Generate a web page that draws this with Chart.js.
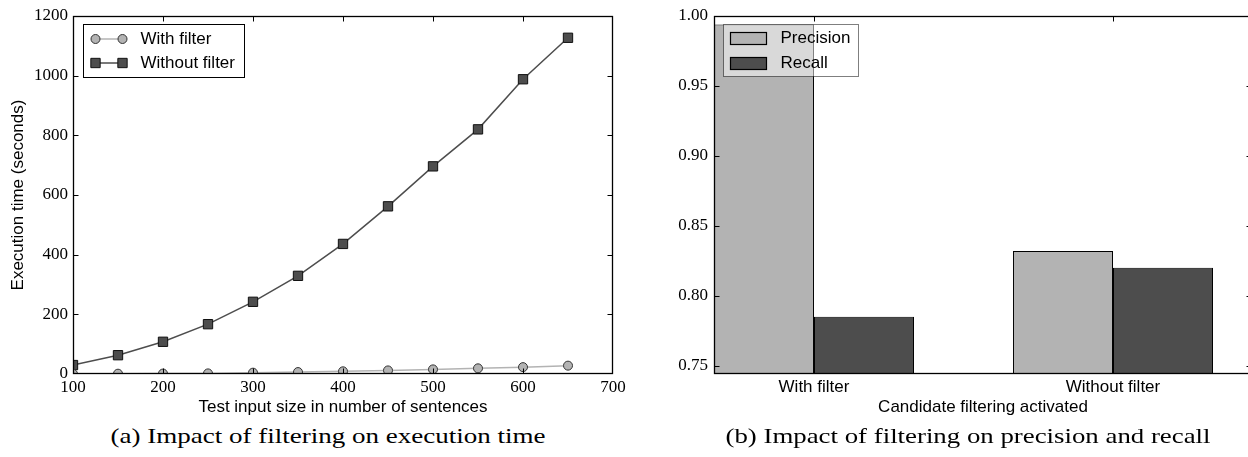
<!DOCTYPE html>
<html>
<head>
<meta charset="utf-8">
<script src="https://cdn.jsdelivr.net/npm/chart.js@4.4.1/dist/chart.umd.min.js"></script>
<style>
  html, body { margin: 0; padding: 0; background: #fff; overflow: hidden; }
  #wrap { position: relative; width: 1248px; height: 457px; overflow: hidden; background: #fff; }
  canvas { position: absolute; top: 0; }
  #timeChart { left: 0; }
  #scoreChart { left: 624px; }
  .cap {
    position: absolute; top: 425px; white-space: nowrap;
    font-family: "Liberation Serif", serif; font-size: 22px; line-height: 22px;
    color: #000; transform-origin: center center;
  }
</style>
</head>
<body>
<div id="wrap">
  <canvas id="timeChart" width="650" height="420"></canvas>
  <canvas id="scoreChart" width="628" height="420"></canvas>
  <div class="cap" id="capA">(a) Impact of filtering on execution time</div>
  <div class="cap" id="capB">(b) Impact of filtering on precision and recall</div>
</div>
<script>
// ---- (a) execution time vs. input size ----
const sentenceCounts = [100, 150, 200, 250, 300, 350, 400, 450, 500, 550, 600, 650];
const timeWithFilter = [0.5, 1, 1.5, 2, 4.5, 6.5, 9, 12, 15.5, 19, 23, 28];
const timeWithoutFilter = [30, 63, 108, 167, 242, 329, 436, 562, 696, 820, 988, 1127];
const sizeTicks = [100, 200, 300, 400, 500, 600, 700];
const timeTicks = [0, 200, 400, 600, 800, 1000, 1200];

// ---- (b) precision / recall per filtering mode ----
const filterModes = ['With filter', 'Without filter'];
const precision = [0.994, 0.832];
const recall = [0.785, 0.820];
const scoreTicks = [0.75, 0.80, 0.85, 0.90, 0.95, 1.00];

const LIGHT = '#b3b3b3';
const DARK = '#4d4d4d';
const SANS = '"Liberation Sans", Arial, sans-serif';
const SERIF = '"Liberation Serif", serif';

Chart.defaults.color = '#000';
Chart.defaults.font.family = SANS;

// Inward tick marks on all four sides plus a closed frame, matplotlib style
const frameTicks = {
  id: 'frameTicks',
  afterDatasetsDraw(chart) {
    const { ctx, chartArea: a, scales: { x, y } } = chart;
    const L = Math.round(a.left) + 0.5, R = Math.round(a.right) - 0.5;
    const T = Math.round(a.top) + 0.5, B = Math.round(a.bottom) - 0.5;
    const len = 5;
    ctx.save();
    ctx.strokeStyle = '#000';
    ctx.lineWidth = 1;
    ctx.beginPath();
    x.ticks.forEach(t => {
      const px = Math.round(x.getPixelForValue(t.value)) + 0.5;
      if (px < L + 1 || px > R - 1) return;
      ctx.moveTo(px, B); ctx.lineTo(px, B - len);
      ctx.moveTo(px, T); ctx.lineTo(px, T + len);
    });
    y.ticks.forEach(t => {
      const py = Math.round(y.getPixelForValue(t.value)) + 0.5;
      if (py < T + 1 || py > B - 1) return;
      ctx.moveTo(L, py); ctx.lineTo(L + len, py);
      ctx.moveTo(R, py); ctx.lineTo(R - len, py);
    });
    ctx.stroke();
    ctx.lineWidth = 1.3;
    ctx.strokeRect(L, T, R - L, B - T);
    ctx.restore();
  }
};

function drawMarker(ctx, style, x, y, r, fill, stroke) {
  ctx.save();
  ctx.fillStyle = fill; ctx.strokeStyle = stroke; ctx.lineWidth = 1;
  ctx.beginPath();
  if (style === 'rect') {
    const s = r * Math.SQRT1_2;
    ctx.rect(x - s, y - s, 2 * s, 2 * s);
  } else {
    ctx.arc(x, y, r, 0, Math.PI * 2);
  }
  ctx.fill(); ctx.stroke();
  ctx.restore();
}

// Legend for the line chart: a line with two markers per entry
const lineLegend = {
  id: 'lineLegend',
  afterDraw(chart) {
    const { ctx, chartArea: a } = chart;
    const bx = Math.round(a.left) + 10.5, by = Math.round(a.top) + 8.5, bw = 161, bh = 53;
    ctx.save();
    ctx.fillStyle = '#fff';
    ctx.fillRect(bx, by, bw, bh);
    ctx.strokeStyle = '#000'; ctx.lineWidth = 1;
    ctx.strokeRect(bx, by, bw, bh);
    chart.data.datasets.forEach((ds, i) => {
      const cy = by + 14.5 + i * 24;
      const x1 = bx + 12, x2 = bx + 39;
      ctx.strokeStyle = ds.borderColor; ctx.lineWidth = ds.borderWidth;
      ctx.beginPath(); ctx.moveTo(x1, cy); ctx.lineTo(x2, cy); ctx.stroke();
      drawMarker(ctx, ds.pointStyle, x1, cy, ds.pointRadius, ds.pointBackgroundColor, ds.pointBorderColor);
      drawMarker(ctx, ds.pointStyle, x2, cy, ds.pointRadius, ds.pointBackgroundColor, ds.pointBorderColor);
      ctx.fillStyle = '#000';
      ctx.font = '17px ' + SANS;
      ctx.textBaseline = 'middle'; ctx.textAlign = 'left';
      ctx.fillText(ds.label, bx + 57, cy);
    });
    ctx.restore();
  }
};

// Legend for the bar chart: half-transparent frame with colour patches
const barLegend = {
  id: 'barLegend',
  afterDraw(chart) {
    const { ctx, chartArea: a } = chart;
    const bx = Math.round(a.left) + 9.5, by = Math.round(a.top) + 8.5, bw = 135, bh = 52;
    ctx.save();
    ctx.fillStyle = 'rgba(255,255,255,0.5)';
    ctx.fillRect(bx, by, bw, bh);
    ctx.strokeStyle = 'rgba(0,0,0,0.5)'; ctx.lineWidth = 1;
    ctx.strokeRect(bx, by, bw, bh);
    chart.data.datasets.forEach((ds, i) => {
      const cy = by + 14 + i * 25;
      ctx.fillStyle = ds.backgroundColor;
      ctx.fillRect(bx + 7, cy - 6, 36, 12);
      ctx.strokeStyle = '#000'; ctx.lineWidth = 1.2;
      ctx.strokeRect(bx + 7, cy - 6, 36, 12);
      ctx.fillStyle = '#000';
      ctx.font = '17px ' + SANS;
      ctx.textBaseline = 'middle'; ctx.textAlign = 'left';
      ctx.fillText(ds.label, bx + 57, cy);
    });
    ctx.restore();
  }
};

function fixedTicks(values) {
  return scale => { scale.ticks = values.map(v => ({ value: v })); };
}
function fixWidth(w) {
  return scale => { scale.width = w; scale.paddingTop = 0; scale.paddingBottom = 0; };
}
function fixHeight(h) {
  return scale => { scale.height = h; scale.paddingLeft = 0; scale.paddingRight = 0; };
}

const tickFont = { family: SERIF, size: 17 };
const titleFont = { family: SANS, size: 17, lineHeight: 1.2 };

new Chart(document.getElementById('timeChart'), {
  type: 'line',
  data: {
    datasets: [
      {
        label: 'With filter',
        data: sentenceCounts.map((n, i) => ({ x: n, y: timeWithFilter[i] })),
        borderColor: LIGHT, borderWidth: 1.5,
        pointStyle: 'circle', pointRadius: 4.5,
        pointBackgroundColor: LIGHT, pointBorderColor: '#333', pointBorderWidth: 1
      },
      {
        label: 'Without filter',
        data: sentenceCounts.map((n, i) => ({ x: n, y: timeWithoutFilter[i] })),
        borderColor: DARK, borderWidth: 1.5,
        pointStyle: 'rect', pointRadius: 6.6,
        pointBackgroundColor: DARK, pointBorderColor: '#111', pointBorderWidth: 1
      }
    ]
  },
  options: {
    responsive: false, animation: false, events: [],
    devicePixelRatio: 1,
    layout: { padding: { left: 0, right: 37, top: 16, bottom: 0 } },
    elements: { line: { tension: 0 } },
    plugins: { legend: { display: false }, tooltip: { enabled: false } },
    scales: {
      x: {
        type: 'linear', min: 100, max: 700,
        afterBuildTicks: fixedTicks(sizeTicks),
        afterFit: fixHeight(46),
        grid: { display: false, drawTicks: false },
        border: { display: false },
        ticks: { font: tickFont, padding: 3, autoSkip: false, maxRotation: 0, callback: v => String(v) },
        title: { display: true, text: 'Test input size in number of sentences', font: titleFont, padding: { top: 0, bottom: 2 } }
      },
      y: {
        type: 'linear', min: 0, max: 1200,
        afterBuildTicks: fixedTicks(timeTicks),
        afterFit: fixWidth(73),
        grid: { display: false, drawTicks: false },
        border: { display: false },
        ticks: { font: tickFont, padding: 5, autoSkip: false, callback: v => String(v) },
        title: { display: true, text: 'Execution time (seconds)', font: titleFont, padding: { top: 8, bottom: 0 } }
      }
    }
  },
  plugins: [frameTicks, lineLegend]
});

// bar groups sit on integer positions; the axis is widened so the first
// group touches the left spine and the right spine falls just past the edge
const groupPos = filterModes.map((_, i) => i);

new Chart(document.getElementById('scoreChart'), {
  type: 'bar',
  data: {
    datasets: [
      {
        label: 'Precision',
        data: groupPos.map((p, i) => ({ x: p, y: precision[i] })),
        backgroundColor: LIGHT, borderColor: '#000', borderWidth: 1, borderSkipped: 'start'
      },
      {
        label: 'Recall',
        data: groupPos.map((p, i) => ({ x: p, y: recall[i] })),
        backgroundColor: DARK, borderColor: '#000', borderWidth: 1, borderSkipped: 'start'
      }
    ]
  },
  options: {
    responsive: false, animation: false, events: [],
    devicePixelRatio: 1,
    layout: { padding: { left: 0, right: 0, top: 16, bottom: 0 } },
    datasets: { bar: { categoryPercentage: 0.669, barPercentage: 1 } },
    plugins: { legend: { display: false }, tooltip: { enabled: false } },
    scales: {
      x: {
        type: 'linear', offset: false, min: -0.3344, max: 1.4649,
        afterBuildTicks: fixedTicks(groupPos),
        afterFit: fixHeight(46),
        grid: { display: false, drawTicks: false },
        border: { display: false },
        ticks: {
          font: { family: SANS, size: 17 }, padding: 3, autoSkip: false, maxRotation: 0,
          callback: (v, i) => filterModes[i]
        },
        title: { display: true, text: 'Candidate filtering activated', font: titleFont, padding: { top: 0, bottom: 2 } }
      },
      y: {
        type: 'linear', min: 0.744, max: 1.0,
        afterBuildTicks: fixedTicks(scoreTicks),
        afterFit: fixWidth(90),
        grid: { display: false, drawTicks: false },
        border: { display: false },
        ticks: { font: tickFont, padding: 6, autoSkip: false, callback: v => v.toFixed(2) }
      }
    }
  },
  plugins: [frameTicks, barLegend]
});

// captions: centred under each panel and stretched to the panel's caption width
function placeCaption(id, cx, width) {
  const el = document.getElementById(id);
  const natural = el.getBoundingClientRect().width;
  el.style.left = cx + 'px';
  el.style.transform = 'translateX(-50%) scaleX(' + (width / natural) + ')';
}
placeCaption('capA', 327.5, 435);
placeCaption('capB', 967.5, 485);
</script>
</body>
</html>
